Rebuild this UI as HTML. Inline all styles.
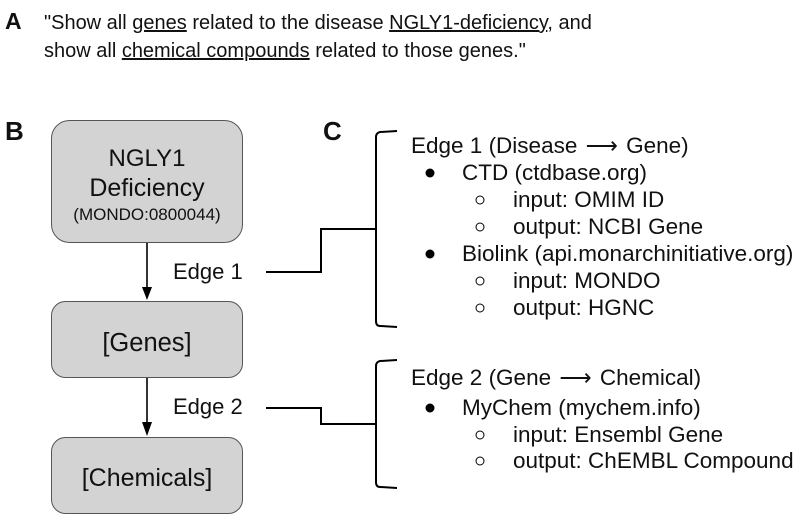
<!DOCTYPE html>
<html><head><meta charset="utf-8"><style>
html,body{margin:0;padding:0;background:#fff;}
svg{display:block;}
text{font-family:"Liberation Sans",Arial,sans-serif;fill:#111;}
</style></head><body>
<svg width="800" height="519" viewBox="0 0 800 519" xmlns="http://www.w3.org/2000/svg">
<!-- A -->
<text x="5" y="29" font-size="23" font-weight="bold">A</text>
<text x="44" y="29" font-size="20">"Show all <tspan text-decoration="underline">genes</tspan> related to the disease <tspan text-decoration="underline">NGLY1-deficiency</tspan>, and</text>
<text x="44" y="57" font-size="20">show all <tspan text-decoration="underline">chemical compounds</tspan> related to those genes."</text>
<!-- B -->
<text x="5" y="140" font-size="26" font-weight="bold">B</text>
<text x="323" y="140" font-size="26" font-weight="bold">C</text>
<rect x="51.5" y="120.5" width="191" height="122" rx="18" fill="#d3d3d3" stroke="#555" stroke-width="1"/>
<text x="147" y="166" font-size="24" text-anchor="middle">NGLY1</text>
<text x="147" y="196" font-size="25" text-anchor="middle">Deficiency</text>
<text x="147" y="220" font-size="17" text-anchor="middle">(MONDO:0800044)</text>
<rect x="51.5" y="301.5" width="191" height="76" rx="14" fill="#d3d3d3" stroke="#555" stroke-width="1"/>
<text x="147" y="351" font-size="25.5" text-anchor="middle">[Genes]</text>
<rect x="51.5" y="437.5" width="191" height="76" rx="14" fill="#d3d3d3" stroke="#555" stroke-width="1"/>
<text x="147" y="486" font-size="25" text-anchor="middle">[Chemicals]</text>
<line x1="147" y1="243" x2="147" y2="288" stroke="#000" stroke-width="1.6"/>
<path d="M142,287 L152,287 L147,300 Z" fill="#000"/>
<line x1="147" y1="378" x2="147" y2="423" stroke="#000" stroke-width="1.6"/>
<path d="M142,422 L152,422 L147,436 Z" fill="#000"/>
<text x="173" y="279" font-size="22">Edge 1</text>
<text x="173" y="414" font-size="22">Edge 2</text>
<!-- connectors -->
<polyline points="266,272 321,272 321,229 375,229" fill="none" stroke="#000" stroke-width="2"/>
<path d="M397,131 L380,132 Q376,133 376,137 L376,321 Q376,326 380,326 L397,327" fill="none" stroke="#000" stroke-width="2"/>
<polyline points="266,408 321,408 321,424 375,424" fill="none" stroke="#000" stroke-width="2"/>
<path d="M397,360 L380,361 Q376,362 376,366 L376,482 Q376,487 380,487 L397,488" fill="none" stroke="#000" stroke-width="2"/>
<!-- C text -->
<g font-size="22.5">
<text x="411" y="153">Edge 1 (Disease <tspan dx="2">⟶</tspan><tspan dx="2"> Gene)</tspan></text>
<circle cx="430" cy="173" r="4.5" fill="#000"/>
<text x="462" y="180">CTD (ctdbase.org)</text>
<circle cx="480" cy="200" r="4" fill="none" stroke="#000" stroke-width="1"/>
<text x="513" y="207">input: OMIM ID</text>
<circle cx="480" cy="227" r="4" fill="none" stroke="#000" stroke-width="1"/>
<text x="513" y="234">output: NCBI Gene</text>
<circle cx="430" cy="254" r="4.5" fill="#000"/>
<text x="462" y="261">Biolink (api.monarchinitiative.org)</text>
<circle cx="480" cy="281" r="4" fill="none" stroke="#000" stroke-width="1"/>
<text x="513" y="288">input: MONDO</text>
<circle cx="480" cy="308" r="4" fill="none" stroke="#000" stroke-width="1"/>
<text x="513" y="315">output: HGNC</text>
<text x="411" y="385">Edge 2 (Gene <tspan dx="2">⟶</tspan><tspan dx="2"> Chemical)</tspan></text>
<circle cx="430" cy="408" r="4.5" fill="#000"/>
<text x="462" y="415">MyChem (mychem.info)</text>
<circle cx="480" cy="435" r="4" fill="none" stroke="#000" stroke-width="1"/>
<text x="513" y="442">input: Ensembl Gene</text>
<circle cx="480" cy="461" r="4" fill="none" stroke="#000" stroke-width="1"/>
<text x="513" y="468">output: ChEMBL Compound</text>
</g>
</svg>
</body></html>
